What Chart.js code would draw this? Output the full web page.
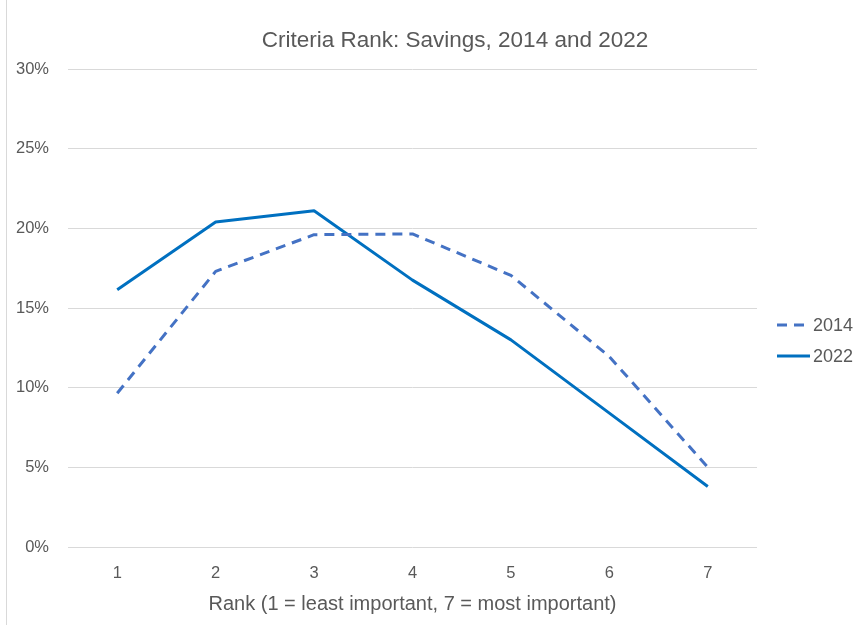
<!DOCTYPE html>
<html>
<head>
<meta charset="utf-8">
<script src="https://cdn.jsdelivr.net/npm/chart.js@4.4.1/dist/chart.umd.min.js"></script>
<style>
  html, body { margin: 0; padding: 0; background: #fff; }
  #wrap { position: relative; width: 858px; height: 629px; }
  #wrap::before { content: ""; position: absolute; left: 6px; top: 0; bottom: 4px; width: 1px; background: #d9d9d9; }
  canvas { display: block; }
</style>
</head>
<body>
<div id="wrap"><canvas id="c" width="858" height="629"></canvas></div>
<script>
const categories = ['1', '2', '3', '4', '5', '6', '7'];
const series2014 = [9.65, 17.3, 19.6, 19.65, 17.05, 11.95, 5.0];
const series2022 = [16.15, 20.4, 21.1, 16.75, 13.0, 8.4, 3.8];
const yTicks = [0, 5, 10, 15, 20, 25, 30];
const chartTitle = 'Criteria Rank: Savings, 2014 and 2022';
const xTitle = 'Rank (1 = least important, 7 = most important)';

const FONT = "'Liberation Sans', Arial, sans-serif";
const GREY = '#595959';

const extrasPlugin = {
  id: 'extras',
  afterDraw(chart) {
    const ctx = chart.ctx;
    ctx.save();
    // title
    ctx.fillStyle = GREY;
    ctx.font = "22.5px " + FONT;
    ctx.textAlign = 'center';
    ctx.textBaseline = 'middle';
    ctx.fillText(chartTitle, 455, 41);
    // legend
    const ys = [325, 356];
    chart.data.datasets.forEach((ds, i) => {
      const y = ys[i];
      ctx.beginPath();
      ctx.strokeStyle = ds.borderColor;
      ctx.lineWidth = 3;
      ctx.setLineDash(ds.borderDash || []);
      ctx.moveTo(777, y);
      ctx.lineTo(810, y);
      ctx.stroke();
      ctx.setLineDash([]);
      ctx.fillStyle = GREY;
      ctx.font = "18px " + FONT;
      ctx.textBaseline = 'middle';
      ctx.textAlign = 'left';
      ctx.fillText(ds.label, 813, y + 1);
    });
    ctx.restore();
  }
};

new Chart(document.getElementById('c'), {
  type: 'line',
  data: {
    labels: categories,
    datasets: [
      { label: '2014', data: series2014, borderColor: '#4472C4', borderWidth: 3, borderDash: [10, 7], pointRadius: 0, fill: false, tension: 0, borderJoinStyle: 'round' },
      { label: '2022', data: series2022, borderColor: '#0070C0', borderWidth: 3, pointRadius: 0, fill: false, tension: 0, borderJoinStyle: 'round' }
    ]
  },
  options: {
    responsive: false,
    animation: false,
    layout: { padding: { left: 0, right: 101, top: 69, bottom: 0 } },
    plugins: {
      legend: { display: false },
      tooltip: { enabled: false },
      title: { display: false }
    },
    scales: {
      x: {
        offset: true,
        afterFit(s) { s.height = 82; },
        grid: { display: false, drawTicks: false },
        border: { display: false },
        ticks: { color: GREY, font: { family: FONT, size: 16.5 }, padding: 17 },
        title: { display: true, text: xTitle, color: GREY, font: { family: FONT, size: 20 }, padding: { top: 4, bottom: 13 } }
      },
      y: {
        min: 0, max: 30,
        afterBuildTicks(s) { s.ticks = yTicks.map(v => ({ value: v })); },
        afterFit(s) { s.width = 68; },
        grid: { color: '#d9d9d9', lineWidth: 1, drawTicks: false },
        border: { display: false },
        ticks: { color: GREY, font: { family: FONT, size: 16.5 }, padding: 19, callback: v => v + '%' }
      }
    }
  },
  plugins: [extrasPlugin]
});
</script>
</body>
</html>
